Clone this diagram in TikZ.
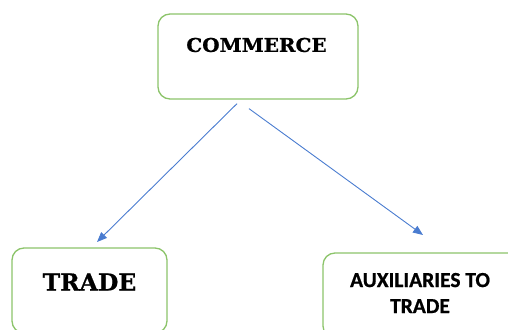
\documentclass[tikz,border=0pt]{standalone}
\usepackage{fontspec}
\newfontfamily\slab{DejaVu Serif}[BoldFeatures={FakeBold=0.8}]
\newfontfamily\boxsans{Carlito}[BoldFeatures={FakeBold=0.8}]
\usetikzlibrary{arrows.meta,calc}
\definecolor{boxgreen}{HTML}{8CC46A}
\definecolor{arrowblue}{HTML}{4A7CD0}
\tikzset{
  greenbox/.style={draw=boxgreen, line width=1.3pt, rounded corners=12pt, fill=white},
  seriftext/.style={text=black, inner sep=0pt},
  sanstext/.style={text=black, inner sep=0pt, align=center},
  link/.style={draw=arrowblue, line width=0.9pt, -{Triangle[length=10pt,width=8pt]}}
}
\begin{document}
\begin{tikzpicture}[x=1pt,y=1pt]
\useasboundingbox (0,0) rectangle (508,329);
\clip (0,0) rectangle (508,329);
% boxes
\node[greenbox, minimum width=200pt, minimum height=85pt] (commerce) at (258,272.5) {};
\node[greenbox, minimum width=155pt, minimum height=85pt] (trade) at (89.5,38.5) {};
\node[greenbox, minimum width=200pt, minimum height=85pt] (aux) at (423,33.5) {};
% texts
\node[seriftext, font=\slab\bfseries\fontsize{19}{22}\selectfont, xscale=1.05] (commercetext) at (256.5,284) {COMMERCE};
\node[seriftext, font=\slab\bfseries\fontsize{23.5}{28}\selectfont] (tradetext) at (89.5,47) {TRADE};
\node[sanstext, font=\boxsans\bfseries\fontsize{21.5}{26}\selectfont] (auxtext) at (420,36) {AUXILIARIES TO\\TRADE};
% connectors
\coordinate (s1) at ($(commerce.south)+(-21,-4)$);
\coordinate (s2) at ($(commerce.south)+(-9,-9)$);
\coordinate (e1) at (97,87);
\coordinate (e2) at (423,94);
\draw[link] (s1) -- (e1);
\draw[link] (s2) -- (e2);
\end{tikzpicture}
\end{document}
